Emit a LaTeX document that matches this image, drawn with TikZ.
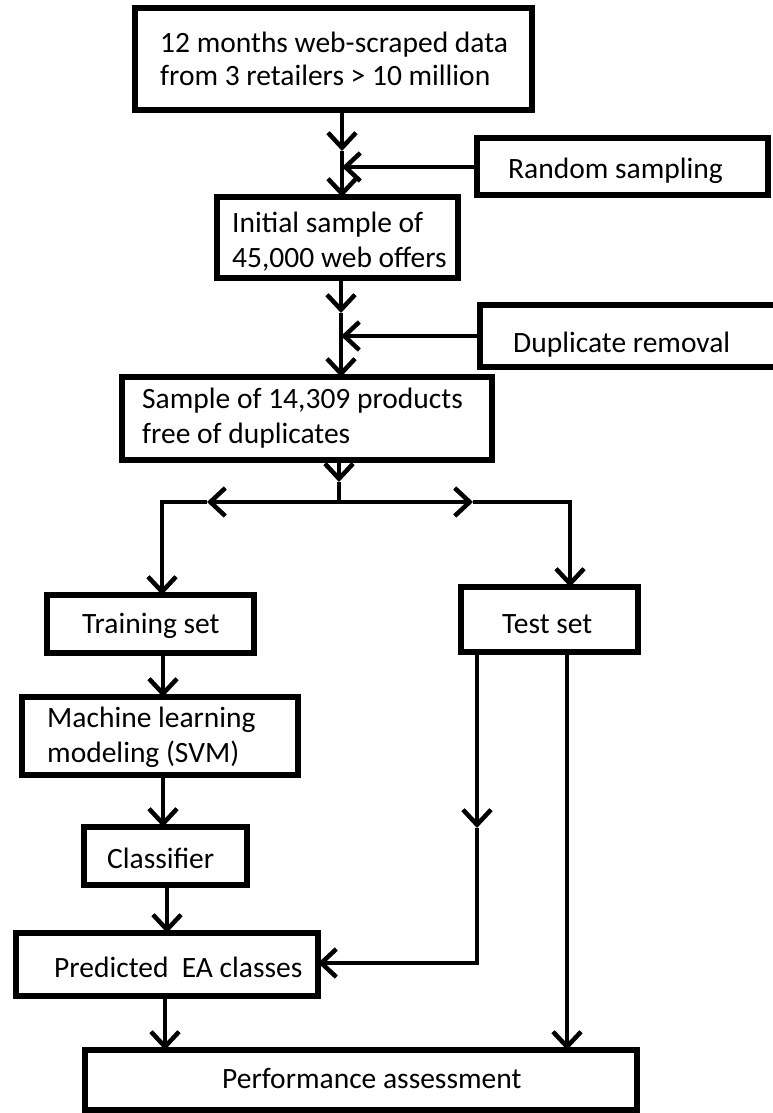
\documentclass[tikz,border=0pt]{standalone}
\usepackage{fontspec}
\setmainfont{Carlito}
\usetikzlibrary{arrows.meta}
\begin{document}
\begin{tikzpicture}[x=1pt,y=-1pt,
  box/.style={draw, line width=5.5pt, inner sep=0pt, outer sep=0pt, rectangle},
  txt/.style={inner sep=0pt, anchor=base west, font=\fontsize{29.5}{35}\selectfont},
  conn/.style={line width=4.5pt},
  arr/.style={conn, -{Straight Barb[length=15pt,width=28pt,line width=4.5pt]}},
]
\useasboundingbox (0,0) rectangle (772,1113);

% boxes
\node[box, minimum width=397pt, minimum height=102pt] (b1) at (333.5,59) {};
\node[box, minimum width=291pt, minimum height=57pt] (rs) at (622.5,166.5) {};
\node[box, minimum width=241pt, minimum height=81pt] (b2) at (337.5,237.5) {};
\node[box, minimum width=296pt, minimum height=62pt] (dr) at (628,336) {};
\node[box, minimum width=370pt, minimum height=83pt] (b3) at (307,418.5) {};
\node[box, minimum width=207pt, minimum height=58pt] (train) at (150.5,624) {};
\node[box, minimum width=177pt, minimum height=65pt] (test) at (549.5,619.5) {};
\node[box, minimum width=276pt, minimum height=78pt] (mlb) at (160,736) {};
\node[box, minimum width=163pt, minimum height=58pt] (cls) at (165.5,856) {};
\node[box, minimum width=302pt, minimum height=63pt] (pred) at (167,964.5) {};
\node[box, minimum width=552pt, minimum height=60pt] (perf) at (361,1080) {};

% texts
\node[txt] (t1a) at (160,53) {12 months web-scraped data};
\node[txt] (t1b) at (160,86) {from 3 retailers > 10 million};
\node[txt] (trs) at (508,178) {Random sampling};
\node[txt] (t2a) at (232,232) {Initial sample of};
\node[txt] (t2b) at (232,267) {45,000 web offers};
\node[txt] (tdr) at (513,352) {Duplicate removal};
\node[txt] (t3a) at (142,408) {Sample of 14,309 products};
\node[txt] (t3b) at (142,443) {free of duplicates};
\node[txt] (ttr) at (82,633) {Training set};
\node[txt] (tts) at (502,633) {Test set};
\node[txt] (tmla) at (47,727) {Machine learning};
\node[txt] (tmlb) at (47,762) {modeling (SVM)};
\node[txt] (tcl) at (107,868) {Classifier};
\node[txt] (tpr) at (54,977) {Predicted\ \ EA classes};
\node[txt] (tpf) at (222,1088) {Performance assessment};

% top chain
\coordinate (j1) at (342,167);
\coordinate (m1) at (342,151);
\draw[arr] (j1 |- b1.south) -- (m1);
\draw[arr] (m1) -- (j1 |- b2.north);
\draw[arr] (rs.west |- j1) -- (j1);

\coordinate (j2) at (341,336);
\coordinate (m2) at (341,313);
\draw[arr] (j2 |- b2.south) -- (m2);
\draw[arr] (m2) -- (j2 |- b3.north);
\draw[arr] (dr.west) -- (j2);

% split
\coordinate (j3) at (339,502);
\coordinate (m3) at (339,482);
\coordinate (lc) at (162,502);
\coordinate (rc) at (570,502);
\coordinate (ml) at (207,502);
\coordinate (mr) at (473,502);
\draw[arr] (j3 |- b3.south) -- (m3);
\draw[conn] (m3) -- (j3);
\draw[arr] (j3) -- (ml);
\draw[arr] (j3) -- (mr);
\draw[arr] (ml) -- (lc) -- (lc |- train.north);
\draw[arr] (mr) -- (rc) -- (rc |- test.north);

% left chain
\coordinate (x1) at (163,0);
\coordinate (x2) at (167,0);
\coordinate (x3) at (165,0);
\draw[arr] (x1 |- train.south) -- (x1 |- mlb.north);
\draw[arr] (x1 |- mlb.south) -- (x1 |- cls.north);
\draw[arr] (x2 |- cls.south) -- (x2 |- pred.north);
\draw[arr] (x3 |- pred.south) -- (x3 |- perf.north);

% test branches
\coordinate (tl) at (477,0);
\coordinate (tr) at (567,0);
\coordinate (m4) at (477,828);
\coordinate (k4) at (477,963);
\draw[arr] (tl |- test.south) -- (m4);
\draw[arr] (m4) -- (k4) -- (k4 -| pred.east);
\draw[arr] (tr |- test.south) -- (tr |- perf.north);
\end{tikzpicture}
\end{document}
